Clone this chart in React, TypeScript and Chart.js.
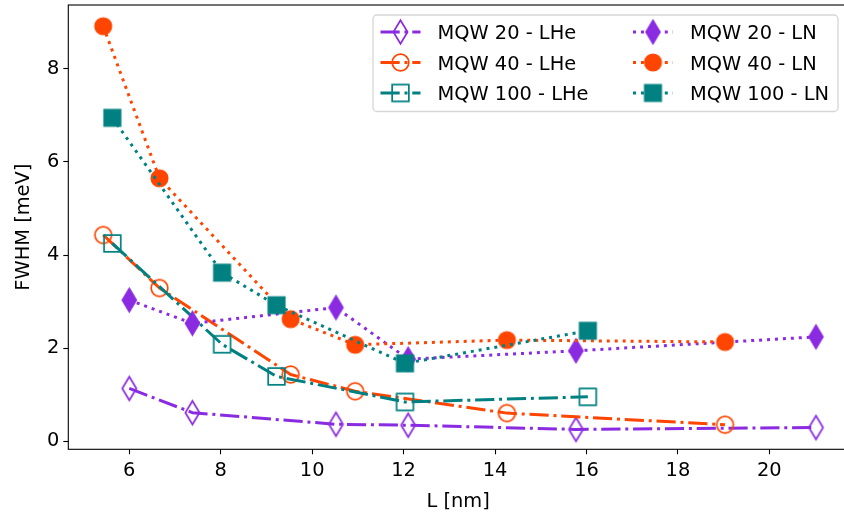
import { useEffect, useRef } from "react";
import { Chart, registerables } from "chart.js";

Chart.register(...registerables);

// Line width in matplotlib-like units (px); dash patterns scale with it.
const LW = 3;
const DASHDOT = [6.4 * LW, 1.6 * LW, 1 * LW, 1.6 * LW];
const DOTTED = [1 * LW, 1.65 * LW];

const PURPLE = "#8a2be2";
const ORANGE = "#ff4500";
const TEAL = "#008080";

// Well width L [nm] for each sample set
const xMqw20 = [6.0, 7.38, 10.52, 12.1, 15.77, 21.02];
const xMqw40 = [5.43, 6.66, 9.53, 10.94, 14.26, 19.03];
const xMqw100 = [5.63, 8.03, 9.22, 12.03, 16.03];

// FWHM [meV] at liquid helium temperature
const yMqw20LHe = [1.13, 0.61, 0.36, 0.34, 0.25, 0.29];
const yMqw40LHe = [4.43, 3.29, 1.43, 1.07, 0.6, 0.35];
const yMqw100LHe = [4.25, 2.08, 1.39, 0.84, 0.95];

// FWHM [meV] at liquid nitrogen temperature
const yMqw20LN = [3.03, 2.53, 2.87, 1.76, 1.94, 2.24];
const yMqw40LN = [8.92, 5.65, 2.62, 2.07, 2.17, 2.13];
const yMqw100LN = [6.95, 3.62, 2.92, 1.67, 2.37];

const xTicks = [6, 8, 10, 12, 14, 16, 18, 20];
const yTicks = [0, 2, 4, 6, 8];

const FONT = "DejaVu Sans";
const FS = 19.4;

type Shape = "diamond" | "circle" | "square";

function makeMarker(shape: Shape, color: string, filled: boolean): HTMLCanvasElement {
  const ms = 16.7;
  const halfW = shape === "diamond" ? 0.6 * ms * Math.SQRT1_2 : ms / 2;
  const halfH = shape === "diamond" ? ms * Math.SQRT1_2 : ms / 2;
  const pad = 3;
  const c = document.createElement("canvas");
  c.width = Math.ceil(2 * (halfW + pad));
  c.height = Math.ceil(2 * (halfH + pad));
  const g = c.getContext("2d")!;
  const cx = c.width / 2;
  const cy = c.height / 2;
  g.beginPath();
  if (shape === "diamond") {
    g.moveTo(cx, cy - halfH);
    g.lineTo(cx + halfW, cy);
    g.lineTo(cx, cy + halfH);
    g.lineTo(cx - halfW, cy);
    g.closePath();
  } else if (shape === "circle") {
    g.arc(cx, cy, ms / 2, 0, Math.PI * 2);
  } else {
    g.rect(cx - halfW, cy - halfH, 2 * halfW, 2 * halfH);
  }
  if (filled) {
    g.fillStyle = color;
    g.fill();
  }
  g.strokeStyle = color;
  g.lineWidth = filled ? 1.4 : 1.7;
  g.lineJoin = "miter";
  g.stroke();
  return c;
}

function series(label: string, xs: number[], ys: number[], color: string, dash: number[], marker: HTMLCanvasElement, order: number) {
  return {
    label,
    data: xs.map((x, i) => ({ x, y: ys[i] })),
    borderColor: color,
    backgroundColor: color,
    borderWidth: LW,
    borderDash: dash,
    borderCapStyle: "butt" as const,
    borderJoinStyle: "round" as const,
    tension: 0,
    fill: false,
    pointStyle: marker,
    pointRadius: 9,
    pointHoverRadius: 9,
    order,
  };
}

const legendAndFrame = {
  id: "legendAndFrame",
  afterDraw(chart: any) {
    const { ctx, chartArea: a } = chart;
    ctx.save();

    // axes frame
    ctx.strokeStyle = "#000";
    ctx.lineWidth = 1.1;
    ctx.setLineDash([]);
    ctx.strokeRect(a.left, a.top, a.right - a.left, a.bottom - a.top);

    // axis titles
    ctx.fillStyle = "#000";
    ctx.font = `${FS}px "${FONT}"`;
    ctx.textAlign = "center";
    ctx.textBaseline = "alphabetic";
    ctx.fillText("L [nm]", (a.left + a.right) / 2, 507);
    ctx.save();
    ctx.translate(28.5, (a.top + a.bottom) / 2);
    ctx.rotate(-Math.PI / 2);
    ctx.fillText("FWHM [meV]", 0, 0);
    ctx.restore();

    // legend box
    const bx = 373, by = 15, bw = 838 - 373, bh = 111.5 - 15, r = 4;
    ctx.beginPath();
    ctx.moveTo(bx + r, by);
    ctx.arcTo(bx + bw, by, bx + bw, by + bh, r);
    ctx.arcTo(bx + bw, by + bh, bx, by + bh, r);
    ctx.arcTo(bx, by + bh, bx, by, r);
    ctx.arcTo(bx, by, bx + bw, by, r);
    ctx.closePath();
    ctx.fillStyle = "rgba(255,255,255,0.8)";
    ctx.fill();
    ctx.strokeStyle = "rgba(204,204,204,0.8)";
    ctx.lineWidth = 1.3;
    ctx.stroke();

    const colX = [380.5, 633];
    const rowY = [32, 62.5, 93];
    chart.data.datasets.forEach((ds: any, i: number) => {
      const col = Math.floor(i / 3);
      const row = i % 3;
      const x0 = colX[col];
      const y = rowY[row];
      ctx.beginPath();
      ctx.setLineDash(ds.borderDash);
      ctx.lineDashOffset = 0;
      ctx.lineCap = "butt";
      ctx.strokeStyle = ds.borderColor;
      ctx.lineWidth = LW;
      ctx.moveTo(x0, y);
      ctx.lineTo(x0 + 40, y);
      ctx.stroke();
      ctx.setLineDash([]);
      const m: HTMLCanvasElement = ds.pointStyle;
      ctx.drawImage(m, x0 + 20 - m.width / 2, y - m.height / 2);
      ctx.fillStyle = "#000";
      ctx.textAlign = "left";
      ctx.textBaseline = "alphabetic";
      ctx.font = `${FS}px "${FONT}"`;
      ctx.fillText(ds.label, x0 + 57, y + 7);
    });

    ctx.restore();
  },
};

export default function App() {
  const canvasRef = useRef<HTMLCanvasElement | null>(null);

  useEffect(() => {
    const canvas = canvasRef.current;
    if (!canvas) return;

    const datasets = [
      series("MQW 20 - LHe", xMqw20, yMqw20LHe, PURPLE, DASHDOT, makeMarker("diamond", PURPLE, false), 5),
      series("MQW 40 - LHe", xMqw40, yMqw40LHe, ORANGE, DASHDOT, makeMarker("circle", ORANGE, false), 4),
      series("MQW 100 - LHe", xMqw100, yMqw100LHe, TEAL, DASHDOT, makeMarker("square", TEAL, false), 3),
      series("MQW 20 - LN", xMqw20, yMqw20LN, PURPLE, DOTTED, makeMarker("diamond", PURPLE, true), 2),
      series("MQW 40 - LN", xMqw40, yMqw40LN, ORANGE, DOTTED, makeMarker("circle", ORANGE, true), 1),
      series("MQW 100 - LN", xMqw100, yMqw100LN, TEAL, DOTTED, makeMarker("square", TEAL, true), 0),
    ];

    const tickFont = { family: FONT, size: FS };

    const chart = new Chart(canvas, {
      type: "line",
      data: { datasets } as any,
      options: {
        responsive: false,
        animation: false,
        devicePixelRatio: 1,
        events: [],
        layout: { autoPadding: false, padding: { left: 0, top: 5, right: 22, bottom: 0 } },
        plugins: {
          legend: { display: false },
          tooltip: { enabled: false },
        },
        scales: {
          x: {
            type: "linear",
            min: 4.666,
            max: 21.72,
            afterBuildTicks: (s: any) => {
              s.ticks = xTicks.map((v) => ({ value: v }));
            },
            afterFit: (s: any) => {
              s.height = 66.7;
              s.paddingLeft = 0;
              s.paddingRight = 0;
              s.paddingTop = 0;
              s.paddingBottom = 0;
            },
            ticks: { font: tickFont, color: "#000", padding: 5, maxRotation: 0, autoSkip: false },
            grid: { display: true, drawOnChartArea: false, drawTicks: true, tickLength: 5, tickWidth: 1.1, tickColor: "#000" },
            border: { display: false },
          },
          y: {
            type: "linear",
            min: -0.178,
            max: 9.376,
            afterBuildTicks: (s: any) => {
              s.ticks = yTicks.map((v) => ({ value: v }));
            },
            afterFit: (s: any) => {
              s.width = 68.3;
              s.paddingLeft = 0;
              s.paddingRight = 0;
              s.paddingTop = 0;
              s.paddingBottom = 0;
            },
            ticks: { font: tickFont, color: "#000", padding: 4, autoSkip: false },
            grid: { display: true, drawOnChartArea: false, drawTicks: true, tickLength: 5, tickWidth: 1.1, tickColor: "#000" },
            border: { display: false },
          },
        },
      },
      plugins: [legendAndFrame],
    });

    return () => chart.destroy();
  }, []);

  return (
    <div
      style={{
        position: "absolute",
        left: 0,
        top: 0,
        width: 844,
        height: 516,
        overflow: "hidden",
        background: "#fff",
      }}
    >
      <canvas ref={canvasRef} width={870} height={516} style={{ display: "block", width: 870, height: 516 }} />
    </div>
  );
}
